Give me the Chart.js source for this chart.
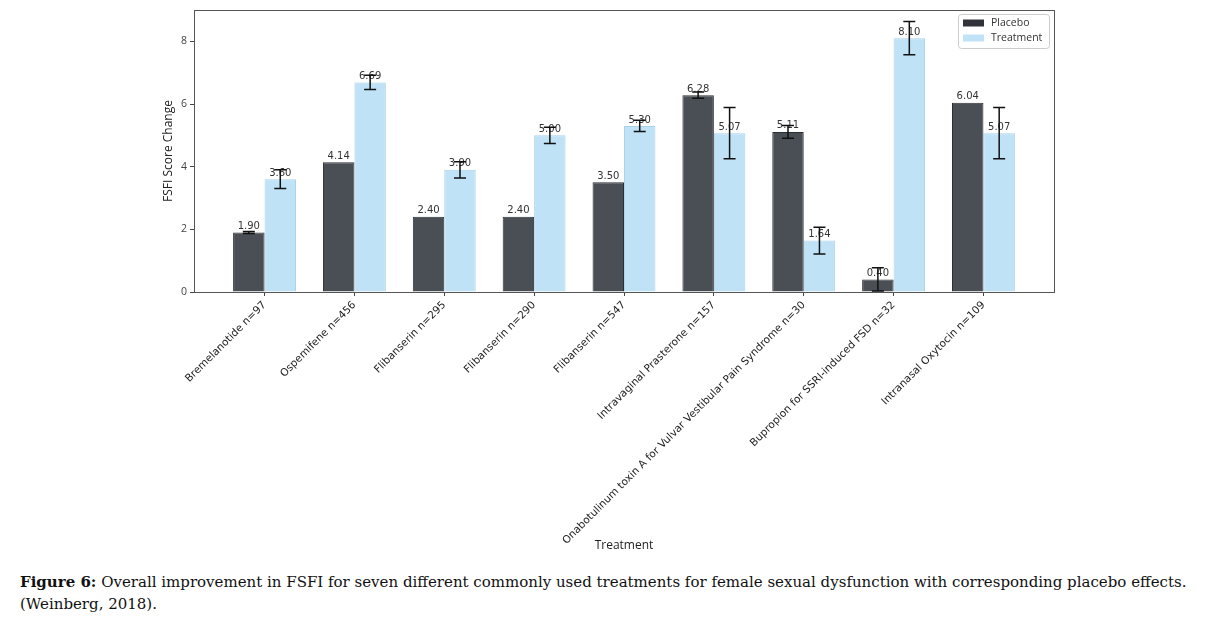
<!DOCTYPE html>
<html>
<head>
<meta charset="utf-8">
<script src="https://cdn.jsdelivr.net/npm/chart.js@4/dist/chart.umd.min.js"></script>
<style>
  body { margin: 0; background: #fff; width: 1212px; height: 621px; overflow: hidden; position: relative; }
  #wrap { position: absolute; left: 0; top: 0; width: 1212px; height: 560px; }
  #caption {
    position: absolute; left: 20px; top: 571px; width: 1192px;
    font-family: "DejaVu Serif", "Liberation Serif", serif; font-size: 15px; line-height: 22px;
    color: #111; white-space: nowrap;
  }
</style>
</head>
<body>
<div id="wrap"><canvas id="fsfiChart"></canvas></div>
<div id="caption"><b>Figure 6:</b> Overall improvement in FSFI for seven different commonly used treatments for female sexual dysfunction with corresponding placebo effects.<br>(Weinberg, 2018).</div>
<script>
const categories = [
    "Bremelanotide n=97",
    "Ospemifene n=456",
    "Flibanserin n=295",
    "Flibanserin n=290",
    "Flibanserin n=547",
    "Intravaginal Prasterone n=157",
    "Onabotulinum toxin A for Vulvar Vestibular Pain Syndrome n=30",
    "Bupropion for SSRI-induced FSD n=32",
    "Intranasal Oxytocin n=109"
];
const placebo = [1.90, 4.14, 2.40, 2.40, 3.50, 6.28, 5.11, 0.40, 6.04];
const treatment = [3.60, 6.69, 3.90, 5.00, 5.30, 5.07, 1.64, 8.10, 5.07];
const placeboErr = [0.03, 0, 0, 0, 0, 0.1, 0.2, 0.37, 0];
const treatmentErr = [0.3, 0.23, 0.26, 0.26, 0.18, 0.82, 0.43, 0.53, 0.82];
const yTicks = [0, 2, 4, 6, 8];

const errors = [placeboErr, treatmentErr];

// frame around the plot, like matplotlib spines
const frame = {
    id: "frame",
    afterDraw(chart) {
        const a = chart.chartArea;
        const ctx = chart.ctx;
        ctx.save();
        ctx.strokeStyle = "#555";
        ctx.lineWidth = 1;
        ctx.strokeRect(a.left + 0.5, a.top + 0.5, a.right - a.left, a.bottom - a.top);
        ctx.restore();
    }
};

// value labels + error bars
const barExtras = {
    id: "barExtras",
    afterDatasetsDraw(chart) {
        const ctx = chart.ctx;
        const yScale = chart.scales.y;
        ctx.save();
        chart.data.datasets.forEach((ds, di) => {
            const meta = chart.getDatasetMeta(di);
            meta.data.forEach((bar, i) => {
                const v = ds.data[i].y;
                ctx.font = "10px 'DejaVu Sans'";
                ctx.fillStyle = "#333";
                ctx.textAlign = "center";
                ctx.textBaseline = "bottom";
                ctx.fillText(v.toFixed(2), bar.x, bar.y - 1);

                const e = errors[di][i];
                if (e > 0) {
                    const top = yScale.getPixelForValue(v + e);
                    const bot = yScale.getPixelForValue(v - e);
                    ctx.strokeStyle = "#111";
                    ctx.lineWidth = 1.5;
                    ctx.beginPath();
                    ctx.moveTo(bar.x, top);
                    ctx.lineTo(bar.x, bot);
                    ctx.moveTo(bar.x - 6, top);
                    ctx.lineTo(bar.x + 6, top);
                    ctx.moveTo(bar.x - 6, bot);
                    ctx.lineTo(bar.x + 6, bot);
                    ctx.stroke();
                }
            });
        });
        ctx.restore();
    }
};

// legend in the upper right corner of the plot
const cornerLegend = {
    id: "cornerLegend",
    afterDraw(chart) {
        const a = chart.chartArea;
        const ctx = chart.ctx;
        const w = 91, h = 34;
        const x = a.right - 5 - w, y = a.top + 4;
        ctx.save();
        ctx.fillStyle = "rgba(255,255,255,0.85)";
        ctx.strokeStyle = "#ccc";
        ctx.lineWidth = 1;
        ctx.beginPath();
        ctx.roundRect(x + 0.5, y + 0.5, w, h, 3);
        ctx.fill();
        ctx.stroke();
        ctx.font = "10.5px 'Open Sans'";
        ctx.textAlign = "left";
        ctx.textBaseline = "middle";
        chart.data.datasets.forEach((ds, i) => {
            const cy = y + 9 + i * 15;
            ctx.fillStyle = ds.legendColor;
            ctx.fillRect(x + 5, cy - 3.5, 21, 7);
            ctx.fillStyle = "#333";
            ctx.fillText(ds.label, x + 33, cy);
        });
        ctx.restore();
    }
};

const ctx = document.getElementById("fsfiChart");

new Chart(ctx, {
    type: "bar",
    data: {
        datasets: [
            {
                label: "Placebo",
                data: placebo.map((v, i) => ({ x: i, y: v })),
                backgroundColor: "#4a4e55",
                borderColor: "#2c2f33",
                legendColor: "#30343a",
                borderWidth: 1
            },
            {
                label: "Treatment",
                data: treatment.map((v, i) => ({ x: i, y: v })),
                backgroundColor: "#bfe2f7",
                borderColor: "#a9d3ea",
                legendColor: "#bfe2f7",
                borderWidth: 1
            }
        ]
    },
    options: {
        responsive: true,
        maintainAspectRatio: false,
        animation: false,
        categoryPercentage: 0.7,
        barPercentage: 1.0,
        layout: { padding: { left: 157, right: 158, top: 10, bottom: 3 } },
        plugins: {
            legend: { display: false },
            tooltip: { enabled: false }
        },
        scales: {
            x: {
                type: "linear",
                min: -0.785,
                max: 8.785,
                offset: false,
                afterFit: s => { s.height = 265; },
                grid: { offset: false, drawOnChartArea: false, tickLength: 4, tickColor: "#444" },
                border: { color: "#555" },
                ticks: {
                    stepSize: 1,
                    includeBounds: false,
                    autoSkip: false,
                    minRotation: 45,
                    maxRotation: 45,
                    color: "#222",
                    font: { family: "DejaVu Sans", size: 10.5 },
                    callback: v => categories[v] || ""
                },
                title: {
                    display: true,
                    text: "Treatment",
                    color: "#222",
                    font: { family: "Open Sans", size: 12 }
                }
            },
            y: {
                min: 0,
                max: 9,
                afterFit: s => { s.width = 37; },
                afterBuildTicks: s => { s.ticks = yTicks.map(v => ({ value: v })); },
                grid: { drawOnChartArea: false, tickLength: 4, tickColor: "#444" },
                border: { color: "#555" },
                ticks: {
                    color: "#444",
                    font: { family: "Open Sans", size: 10.5 }
                },
                title: {
                    display: true,
                    text: "FSFI Score Change",
                    color: "#222",
                    font: { family: "Open Sans", size: 12 }
                }
            }
        }
    },
    plugins: [frame, barExtras, cornerLegend]
});
</script>
</body>
</html>
